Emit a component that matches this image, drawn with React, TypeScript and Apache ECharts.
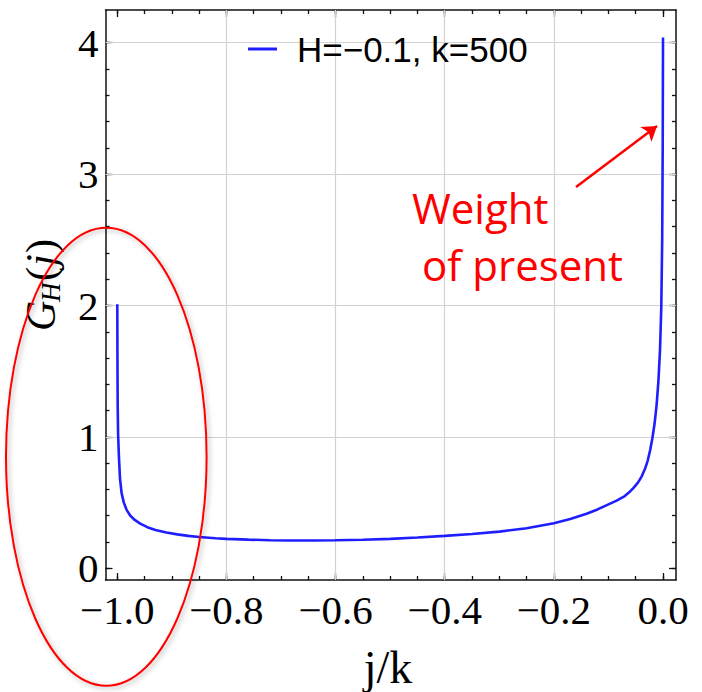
import React, { useEffect, useRef } from "react";
import * as echarts from "echarts";

const SERIES_NAME = "H=−0.1, k=500";

const X_VALUES = [
  -1.0, -0.9997, -0.9993, -0.9985, -0.997, -0.995, -0.992, -0.988, -0.983, -0.976,
  -0.968, -0.958, -0.945, -0.93, -0.91, -0.89, -0.87, -0.85, -0.82, -0.8,
  -0.76, -0.72, -0.68, -0.64, -0.6, -0.55, -0.5, -0.45, -0.4, -0.35,
  -0.3, -0.25, -0.2, -0.17, -0.14, -0.12, -0.1, -0.085, -0.07, -0.062,
  -0.054, -0.046, -0.039, -0.033, -0.028, -0.0235, -0.0195, -0.0155, -0.0118, -0.0085,
  -0.0055, -0.0032, -0.0015, -0.0005, 0.0,
];
const Y_VALUES = [
  2.01, 1.6, 1.25, 1.02, 0.85, 0.68, 0.57, 0.5, 0.445, 0.4,
  0.368, 0.34, 0.313, 0.292, 0.272, 0.258, 0.247, 0.238, 0.229, 0.224,
  0.218, 0.214, 0.212, 0.212, 0.213, 0.217, 0.224, 0.234, 0.247, 0.261,
  0.279, 0.305, 0.343, 0.375, 0.415, 0.448, 0.487, 0.515, 0.55, 0.578,
  0.612, 0.652, 0.7, 0.757, 0.82, 0.9, 0.99, 1.1, 1.24, 1.42,
  1.66, 1.98, 2.5, 3.25, 4.04,
];

const X_MAJOR = [-1.0, -0.8, -0.6, -0.4, -0.2, 0.0];
const X_MAJOR_LABELS = ["−1.0", "−0.8", "−0.6", "−0.4", "−0.2", "0.0"];
const X_MINOR = [
  -1.0, -0.95, -0.9, -0.85, -0.8, -0.75, -0.7, -0.65, -0.6, -0.55, -0.5,
  -0.45, -0.4, -0.35, -0.3, -0.25, -0.2, -0.15, -0.1, -0.05, 0.0,
];
const X_GRID = [-0.8, -0.6, -0.4, -0.2];

const Y_MAJOR = [0, 1, 2, 3, 4];
const Y_MAJOR_LABELS = ["0", "1", "2", "3", "4"];
const Y_MINOR = [
  0, 0.2, 0.4, 0.6, 0.8, 1.0, 1.2, 1.4, 1.6, 1.8, 2.0,
  2.2, 2.4, 2.6, 2.8, 3.0, 3.2, 3.4, 3.6, 3.8, 4.0,
];
const Y_GRID = [1, 2, 3, 4];

const X_RANGE = [-1.0216, 0.0238];
const Y_RANGE = [-0.089, 4.249];

const ARROW_FROM = [-0.1594, 2.902];
const ARROW_TO = [-0.011, 3.366];

const X_NAME = "j/k";
const NOTE_LINE_1 = "Weight";
const NOTE_LINE_2 = "of present";

const BLUE = "#1e1eff";
const RED = "#ff0000";
const FRAME = "#111111";
const GRIDC = "#d2d2d2";
const SERIF = "'Liberation Serif', 'Times New Roman', serif";
const SANS = "'Liberation Sans', Arial, sans-serif";

function lookup(vals: number[], labels: string[]) {
  return (v: number) => {
    const i = vals.findIndex((m) => Math.abs(m - v) < 1e-6);
    return i >= 0 ? labels[i] : "";
  };
}

const NO_SPLIT = {
  splitLine: { show: false, lineStyle: { color: "rgba(0,0,0,0)", width: 0 } },
  minorSplitLine: { show: false, lineStyle: { color: "rgba(0,0,0,0)", width: 0 } },
  minorTick: { show: false },
  splitArea: { show: false },
};

export default function App() {
  const ref = useRef<HTMLDivElement>(null);

  useEffect(() => {
    if (!ref.current) return;
    const chart = echarts.init(ref.current, null, { renderer: "svg" });

    const tickStyle = { color: FRAME, width: 1.3 };
    const baseX = { type: "value", min: X_RANGE[0], max: X_RANGE[1], gridIndex: 0 };
    const baseY = { type: "value", min: Y_RANGE[0], max: Y_RANGE[1], gridIndex: 0 };

    const frameAxis = (base: any, position: string) => ({
      ...base,
      ...NO_SPLIT,
      position,
      axisLine: { show: true, onZero: false, lineStyle: { color: FRAME, width: 1.5 } },
      axisTick: { show: true, inside: true, length: 7, customValues: base === baseX ? X_MAJOR : Y_MAJOR, lineStyle: tickStyle },
      axisLabel: { show: false },
    });
    const minorAxis = (base: any, position: string) => ({
      ...base,
      ...NO_SPLIT,
      position,
      axisLine: { show: false, onZero: false },
      axisTick: { show: true, inside: true, length: 4, customValues: base === baseX ? X_MINOR : Y_MINOR, lineStyle: tickStyle },
      axisLabel: { show: false },
    });

    const xMain: any = frameAxis(baseX, "bottom");
    xMain.axisLabel = {
      show: true,
      customValues: X_MAJOR,
      formatter: lookup(X_MAJOR, X_MAJOR_LABELS),
      margin: 9.5,
      fontFamily: SERIF,
      fontSize: 41,
      color: "#000",
    };
    const yMain: any = frameAxis(baseY, "left");
    yMain.axisLabel = {
      show: true,
      customValues: Y_MAJOR,
      formatter: lookup(Y_MAJOR, Y_MAJOR_LABELS),
      margin: 7,
      fontFamily: SERIF,
      fontSize: 41,
      color: "#000",
    };

    const gridLineStyle = { color: GRIDC, width: 1.2, type: "solid" };
    const markData: any[] = [
      ...X_GRID.map((v) => ({ xAxis: v, lineStyle: gridLineStyle, symbol: "none" })),
      ...Y_GRID.map((v) => ({ yAxis: v, lineStyle: gridLineStyle, symbol: "none" })),
      [
        { coord: ARROW_FROM, symbol: "none" },
        { coord: ARROW_TO, symbol: "arrow", symbolSize: 14 },
      ],
    ];

    const option: any = {
      animation: false,
      backgroundColor: "#ffffff",
      grid: { left: 105.5, right: 26, top: 10, bottom: 112 },
      xAxis: [
        xMain,
        minorAxis(baseX, "bottom"),
        frameAxis(baseX, "top"),
        minorAxis(baseX, "top"),
      ],
      yAxis: [
        yMain,
        minorAxis(baseY, "left"),
        frameAxis(baseY, "right"),
        minorAxis(baseY, "right"),
      ],
      legend: {
        show: true,
        left: 248,
        top: 23,
        padding: 0,
        itemWidth: 29,
        itemHeight: 3,
        icon: "rect",
        selectedMode: false,
        itemStyle: { color: BLUE },
        textStyle: {
          fontFamily: SANS,
          fontSize: 35,
          color: "#000",
          lineHeight: 40,
          padding: [0, 0, 12, 15],
        },
        data: [SERIES_NAME],
      },
      series: [
        {
          name: SERIES_NAME,
          type: "line",
          xAxisIndex: 0,
          yAxisIndex: 0,
          data: X_VALUES.map((x, i) => [x, Y_VALUES[i]]),
          showSymbol: false,
          symbol: "none",
          smooth: false,
          clip: true,
          lineStyle: { color: BLUE, width: 2.6 },
          itemStyle: { color: BLUE },
          z: 5,
          markLine: {
            silent: true,
            animation: false,
            z: 1,
            symbol: ["none", "none"],
            label: { show: false },
            lineStyle: { color: RED, width: 2.5, type: "solid" },
            data: markData,
          },
        },
      ],
      graphic: [
        {
          type: "text",
          x: 412,
          y: 207,
          z: 50,
          style: {
            text: NOTE_LINE_1,
            fill: RED,
            fontFamily: "'Open Sans', sans-serif",
            fontSize: 42,
            align: "left",
            verticalAlign: "middle",
          },
        },
        {
          type: "text",
          x: 422,
          y: 264.7,
          z: 50,
          style: {
            text: NOTE_LINE_2,
            fill: RED,
            fontFamily: "'Open Sans', sans-serif",
            fontSize: 42,
            align: "left",
            verticalAlign: "middle",
          },
        },
        {
          type: "text",
          x: 388,
          y: 667,
          z: 50,
          style: {
            text: X_NAME,
            fill: "#000",
            fontFamily: SERIF,
            fontSize: 46,
            align: "center",
            verticalAlign: "middle",
          },
        },
        {
          type: "group",
          x: 41,
          y: 331,
          rotation: Math.PI / 2,
          z: 50,
          children: [
            { type: "text", x: 0, y: 0, style: { text: "G", fill: "#000", fontFamily: SERIF, fontStyle: "italic", fontSize: 42, align: "left", verticalAlign: "middle" } },
            { type: "text", x: 29, y: 10, style: { text: "H", fill: "#000", fontFamily: SERIF, fontStyle: "italic", fontSize: 27, align: "left", verticalAlign: "middle" } },
            { type: "text", x: 50, y: 0, style: { text: "(", fill: "#000", fontFamily: SERIF, fontSize: 42, align: "left", verticalAlign: "middle" } },
            { type: "text", x: 65, y: 0, style: { text: "j", fill: "#000", fontFamily: SERIF, fontStyle: "italic", fontSize: 42, align: "left", verticalAlign: "middle" } },
            { type: "text", x: 78, y: 0, style: { text: ")", fill: "#000", fontFamily: SERIF, fontSize: 42, align: "left", verticalAlign: "middle" } },
          ],
        },
        {
          type: "ellipse",
          z: 100,
          shape: { cx: 106.3, cy: 456.8, rx: 100.3, ry: 229 },
          style: {
            fill: "none",
            stroke: RED,
            lineWidth: 2,
            shadowBlur: 5,
            shadowColor: "rgba(0,0,0,0.3)",
            shadowOffsetX: 2,
            shadowOffsetY: 2,
          },
        },
      ],
    };

    chart.setOption(option);
    return () => chart.dispose();
  }, []);

  return (
    <div
      ref={ref}
      style={{ position: "absolute", left: 0, top: 0, width: 702, height: 692, background: "#fff" }}
    />
  );
}
